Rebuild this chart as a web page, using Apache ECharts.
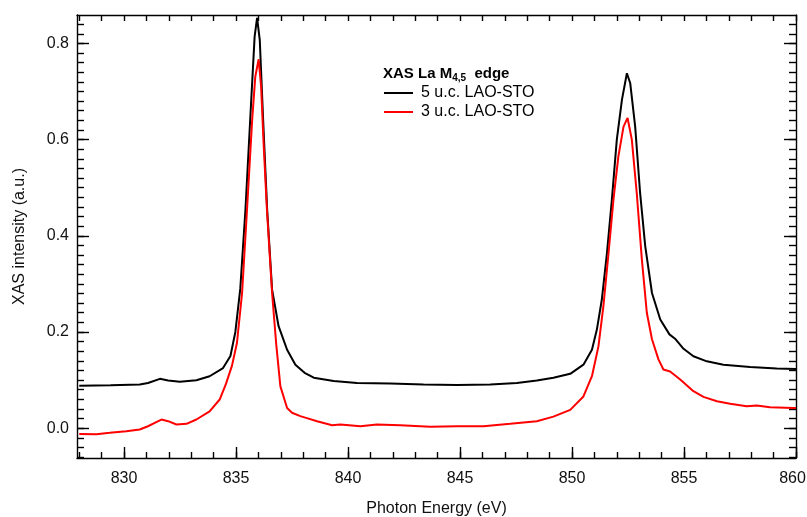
<!DOCTYPE html>
<html>
<head>
<meta charset="utf-8">
<script src="https://cdn.jsdelivr.net/npm/echarts@6/dist/echarts.min.js"></script>
<style>
html,body{margin:0;padding:0;background:#fff;}
#chart{width:807px;height:517px;}
</style>
</head>
<body>
<div id="chart"></div>
<script>
// ---- data ----
const energy5 = [828.0,829.4,830.7,831.07,831.6,831.97,832.49,833.23,833.82,834.42,834.75,834.97,835.19,835.42,835.64,835.83,835.94,836.06,836.21,836.39,836.61,836.9,837.28,837.65,838.06,838.47,839.36,840.4,841.89,843.37,844.86,846.35,847.54,848.43,849.17,849.92,850.51,850.89,851.11,851.33,851.56,851.78,852.0,852.23,852.45,852.6,852.82,853.04,853.27,853.57,853.94,854.35,854.6,854.98,855.42,856.02,856.76,857.95,859.14,860.0];
const intensity5 = [0.088,0.089,0.091,0.094,0.1026,0.099,0.0963,0.0998,0.108,0.125,0.150,0.200,0.290,0.454,0.648,0.814,0.853,0.807,0.641,0.454,0.288,0.212,0.163,0.132,0.115,0.105,0.098,0.094,0.093,0.0908,0.090,0.0908,0.094,0.099,0.105,0.113,0.132,0.163,0.205,0.267,0.364,0.475,0.600,0.683,0.738,0.717,0.627,0.489,0.378,0.281,0.226,0.195,0.186,0.165,0.1495,0.139,0.132,0.127,0.124,0.123];

const energy3 = [828.0,828.77,829.36,830.1,830.7,831.07,831.37,831.67,831.97,832.34,832.79,833.23,833.82,834.27,834.55,834.82,835.04,835.27,835.49,835.72,835.86,836.01,836.12,836.23,836.38,836.61,836.79,836.98,837.28,837.5,837.87,838.09,838.62,839.29,839.66,840.55,841.29,842.33,843.67,844.86,846.05,847.24,848.43,849.17,849.92,850.51,850.89,851.18,851.4,851.63,851.85,852.07,852.3,852.48,852.67,852.89,853.12,853.34,853.57,853.86,854.08,854.38,854.83,855.42,855.87,856.47,857.06,857.8,858.25,858.84,859.88,860.0];
const intensity3 = [-0.012,-0.0124,-0.0097,-0.0062,-0.0027,0.004,0.011,0.018,0.0146,0.0077,0.009,0.018,0.035,0.0596,0.092,0.130,0.177,0.281,0.454,0.641,0.731,0.767,0.710,0.593,0.454,0.281,0.177,0.087,0.042,0.032,0.025,0.022,0.0145,0.006,0.0077,0.004,0.0077,0.006,0.003,0.004,0.004,0.009,0.0145,0.024,0.038,0.066,0.108,0.170,0.253,0.364,0.475,0.565,0.627,0.645,0.600,0.489,0.350,0.240,0.185,0.143,0.122,0.118,0.101,0.077,0.065,0.056,0.051,0.0457,0.047,0.0436,0.042,0.042];

const seriesNames = ['5 u.c. LAO-STO', '3 u.c. LAO-STO'];
const xMajorTicks = [830, 835, 840, 845, 850, 855, 860];
const yMajorTicks = [0, 0.2, 0.4, 0.6, 0.8];
const xRange = [827.9, 860];
const yRange = [-0.062, 0.859];

// minor tick positions
const xMinorTicks = [];
for (let v = 828; v <= 860; v++) xMinorTicks.push(v);
const yMinorTicks = [];
for (let k = -3; k <= 42; k++) yMinorTicks.push(Math.round(k * 2) / 100);

const zip = (xs, ys) => xs.map((x, i) => [x, ys[i]]);

const FONT = 'Liberation Sans, Arial, sans-serif';
const axisLineStyle = { color: '#000', width: 1.4 };
const tickStyle = { color: '#000', width: 1.4 };

function xAxisBase(extra) {
  return Object.assign({
    type: 'value', min: xRange[0], max: xRange[1],
    splitLine: { show: false },
    axisLine: { show: false, lineStyle: axisLineStyle },
    axisTick: { show: false },
    axisLabel: { show: false }
  }, extra);
}
function yAxisBase(extra) {
  return Object.assign({
    type: 'value', min: yRange[0], max: yRange[1],
    splitLine: { show: false },
    axisLine: { show: false, lineStyle: axisLineStyle },
    axisTick: { show: false },
    axisLabel: { show: false }
  }, extra);
}

const chart = echarts.init(document.getElementById('chart'), null, { renderer: 'canvas' });
chart.setOption({
  animation: false,
  backgroundColor: '#fff',
  textStyle: { fontFamily: FONT },
  grid: { left: 77, right: 11, top: 15, bottom: 59, containLabel: false, outerBoundsMode: 'none' },
  title: {
    left: 383, top: 65, padding: 0,
    text: '{b|XAS La M}{s|4,5}{b|  edge}',
    textStyle: {
      rich: {
        b: { fontFamily: FONT, fontWeight: 'bold', fontSize: 15, color: '#000' },
        s: { fontFamily: FONT, fontWeight: 'bold', fontSize: 10, color: '#000', verticalAlign: 'bottom', padding: [8, 0, 0, 0] }
      }
    }
  },
  legend: {
    left: 384, top: 85, orient: 'vertical', padding: 0,
    icon: 'rect', itemWidth: 29, itemHeight: 2, itemGap: 3,
    data: seriesNames,
    textStyle: { fontFamily: FONT, fontSize: 16, lineHeight: 16, color: '#000', padding: [0, 0, 0, 3] }
  },
  xAxis: [
    xAxisBase({
      position: 'bottom',
      axisLine: { show: true, onZero: false, lineStyle: axisLineStyle },
      axisTick: { show: true, inside: true, length: 11, customValues: xMajorTicks, lineStyle: tickStyle },
      axisLabel: {
        show: true, customValues: xMajorTicks, fontSize: 16, margin: 13, color: '#111', fontFamily: FONT,
        formatter: v => (v === xRange[1] ? '{r|' + v + '}' : String(v)),
        rich: { r: { fontSize: 16, color: '#111', fontFamily: FONT, padding: [0, 7, 0, 0] } }
      },
      name: 'Photon Energy (eV)', nameLocation: 'middle', nameGap: 43,
      nameTextStyle: { fontSize: 16, color: '#111', fontFamily: FONT }
    }),
    xAxisBase({
      position: 'bottom',
      axisLine: { show: false, onZero: false },
      axisTick: { show: true, inside: true, length: 6, customValues: xMinorTicks, lineStyle: tickStyle }
    }),
    xAxisBase({
      position: 'top',
      axisLine: { show: true, onZero: false, lineStyle: axisLineStyle },
      axisTick: { show: true, inside: true, length: 6, customValues: xMinorTicks, lineStyle: tickStyle }
    })
  ],
  yAxis: [
    yAxisBase({
      position: 'left',
      axisLine: { show: true, onZero: false, lineStyle: axisLineStyle },
      axisTick: { show: true, inside: true, length: 12, customValues: yMajorTicks, lineStyle: tickStyle },
      axisLabel: { show: true, customValues: yMajorTicks, fontSize: 16, margin: 8, color: '#111', fontFamily: FONT,
        formatter: v => v.toFixed(1) },
      name: 'XAS intensity (a.u.)', nameLocation: 'middle', nameGap: 49,
      nameTextStyle: { fontSize: 16, color: '#111', fontFamily: FONT }
    }),
    yAxisBase({
      position: 'left',
      axisLine: { show: false, onZero: false },
      axisTick: { show: true, inside: true, length: 7, customValues: yMinorTicks, lineStyle: tickStyle }
    }),
    yAxisBase({
      position: 'right',
      axisLine: { show: true, onZero: false, lineStyle: axisLineStyle },
      axisTick: { show: true, inside: true, length: 12, customValues: yMajorTicks, lineStyle: tickStyle }
    }),
    yAxisBase({
      position: 'right',
      axisLine: { show: false, onZero: false },
      axisTick: { show: true, inside: true, length: 7, customValues: yMinorTicks, lineStyle: tickStyle }
    })
  ],
  series: [
    {
      name: seriesNames[0], type: 'line', xAxisIndex: 0, yAxisIndex: 0,
      data: zip(energy5, intensity5), symbol: 'none', showSymbol: false,
      lineStyle: { color: '#000', width: 2 }, itemStyle: { color: '#000' }
    },
    {
      name: seriesNames[1], type: 'line', xAxisIndex: 0, yAxisIndex: 0,
      data: zip(energy3, intensity3), symbol: 'none', showSymbol: false,
      lineStyle: { color: '#ff0000', width: 2 }, itemStyle: { color: '#ff0000' }
    }
  ]
});
</script>
</body>
</html>
